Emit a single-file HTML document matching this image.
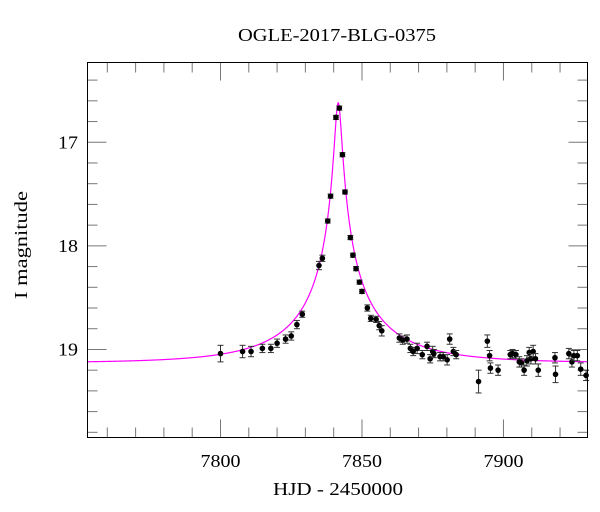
<!DOCTYPE html>
<html><head><meta charset="utf-8"><style>
body{margin:0;background:#fff;}
svg{display:block;font-family:"Liberation Serif",serif;}
</style></head><body>
<svg id="chart" width="600" height="512">
<text x="337" y="41" text-anchor="middle" font-size="18" textLength="198" lengthAdjust="spacingAndGlyphs">OGLE-2017-BLG-0375</text>
<text x="338" y="495" text-anchor="middle" font-size="18" textLength="130" lengthAdjust="spacingAndGlyphs">HJD - 2450000</text>
<text transform="translate(27,245) rotate(-90)" text-anchor="middle" font-size="18" textLength="108" lengthAdjust="spacingAndGlyphs">I magnitude</text>
<g id="ticks"></g>
<g id="model"></g>
<g id="points"></g>
<rect x="87.5" y="62.5" width="500" height="375" fill="none" stroke="#000" stroke-width="1"/>
</svg>
<script>
const times=[7800,7807.8,7810.8,7814.8,7817.8,7820,7823,7825,7827,7828.9,7834.8,7836,7837.9,7838.9,7840.8,7842,7843.1,7844,7845.9,7846.8,7847.9,7849.1,7850,7851.9,7853.1,7855,7856.1,7857,7863.2,7864.4,7865.9,7867.1,7868.1,7869.5,7871.3,7873,7874.1,7875,7875.4,7877.6,7878.7,7880.1,7881,7882.3,7883.3,7891.2,7894.3,7895.1,7895.4,7898.1,7902.4,7903.2,7904.4,7905.6,7906.4,7907.3,7908.3,7909.1,7909.7,7910.5,7911.3,7912.3,7918.2,7918.4,7923.1,7924.2,7924.9,7926.1,7927.3,7929.2];
const mags=[19.04,19.02,19.02,18.99,18.99,18.94,18.90,18.87,18.76,18.66,18.19,18.12,17.76,17.52,16.76,16.67,17.12,17.48,17.92,18.09,18.22,18.35,18.44,18.60,18.70,18.71,18.77,18.82,18.89,18.91,18.90,18.99,19.02,18.99,19.05,18.97,19.09,19.02,19.04,19.07,19.07,19.10,18.90,19.02,19.05,19.31,18.92,19.06,19.18,19.20,19.05,19.04,19.05,19.12,19.13,19.20,19.11,19.03,19.09,19.02,19.09,19.20,19.08,19.24,19.04,19.12,19.06,19.06,19.19,19.25];
const errs=[0.08,0.06,0.05,0.04,0.04,0.04,0.04,0.04,0.04,0.03,0.04,0.03,0.02,0.02,0.02,0.02,0.02,0.02,0.02,0.02,0.02,0.02,0.02,0.03,0.03,0.03,0.04,0.05,0.04,0.04,0.04,0.04,0.04,0.05,0.04,0.04,0.04,0.05,0.04,0.04,0.04,0.05,0.05,0.04,0.04,0.11,0.06,0.05,0.05,0.05,0.04,0.04,0.04,0.05,0.04,0.05,0.05,0.05,0.05,0.06,0.05,0.06,0.05,0.08,0.05,0.05,0.05,0.05,0.06,0.05];
const xTickLabels=[7800,7850,7900];
const yTickLabels=[17,18,19];
const model={t0:7841.6,u0:0.034,tE:36,fs:0.32,base:19.13};

const X0=87.5,X1=587.5,Y0=62.5,Y1=437.5;
const xmin=7753,xmax=7929.7,ymin=16.23,ymax=19.85;
const sx=t=>X0+(t-xmin)/(xmax-xmin)*(X1-X0);
const sy=m=>Y0+(m-ymin)/(ymax-ymin)*(Y1-Y0);
const NS="http://www.w3.org/2000/svg";
function mk(tag,attrs,parent){const e=document.createElementNS(NS,tag);for(const k in attrs)e.setAttribute(k,attrs[k]);parent.appendChild(e);return e;}

const tg=document.getElementById('ticks');
for(let t=7760;t<=7920;t+=10){
  const major=t%50===0;const L=major?18:10;const x=sx(t);
  const a=mk('line',{x1:x,x2:x,y1:Y1,y2:Y1-L,stroke:'#777'},tg);
  
  
  const b=mk('line',{x1:x,x2:x,y1:Y0,y2:Y0+L,stroke:'#777'},tg);
  
  
}
xTickLabels.forEach(v=>{
  const e=mk('text',{x:sx(v),y:467,'text-anchor':'middle','font-size':18,textLength:40,lengthAdjust:'spacingAndGlyphs'},tg);e.textContent=v;
  
  
});
for(let i=0;i<18;i++){
  const m=16.4+i*0.2;if(m>19.85)break;
  const major=Math.abs(m-Math.round(m))<0.01;const L=major?19:10;const y=sy(m);
  const a=mk('line',{x1:X0,x2:X0+L,y1:y,y2:y,stroke:'#777'},tg);
  
  
  const b=mk('line',{x1:X1,x2:X1-L,y1:y,y2:y,stroke:'#777'},tg);
  
  
}
yTickLabels.forEach(v=>{
  const e=mk('text',{x:78,y:sy(v)+6,'text-anchor':'end','font-size':18,textLength:20,lengthAdjust:'spacingAndGlyphs'},tg);e.textContent=v;
  
  
});

function modelMag(t){
  const d=(t-model.t0)/model.tE;const u=Math.sqrt(model.u0*model.u0+d*d);
  const A=(u*u+2)/(u*Math.sqrt(u*u+4));
  return model.base-2.5*Math.log10(1+model.fs*(A-1));
}
let d='';
for(let t=xmin;t<=xmax;t+=0.1){d+=(d?'L':'M')+sx(t).toFixed(2)+','+sy(modelMag(t)).toFixed(2);}
const mp=mk('path',{d:d,fill:'none',stroke:'#ff00ff','stroke-width':1.2},document.getElementById('model'));



const pg=document.getElementById('points');
times.forEach((t,i)=>{
  const x=sx(t),y=sy(mags[i]),e1=sy(mags[i]-errs[i]),e2=sy(mags[i]+errs[i]);
  const g=mk('g',{},pg);
  
  
  mk('line',{x1:x,x2:x,y1:e1,y2:e2,stroke:'#333'},g);
  mk('line',{x1:x-3,x2:x+3,y1:e1,y2:e1,stroke:'#333'},g);
  mk('line',{x1:x-3,x2:x+3,y1:e2,y2:e2,stroke:'#333'},g);
  mk('circle',{cx:x,cy:y,r:2.8,fill:'#000'},g);
});
</script>
</body></html>
